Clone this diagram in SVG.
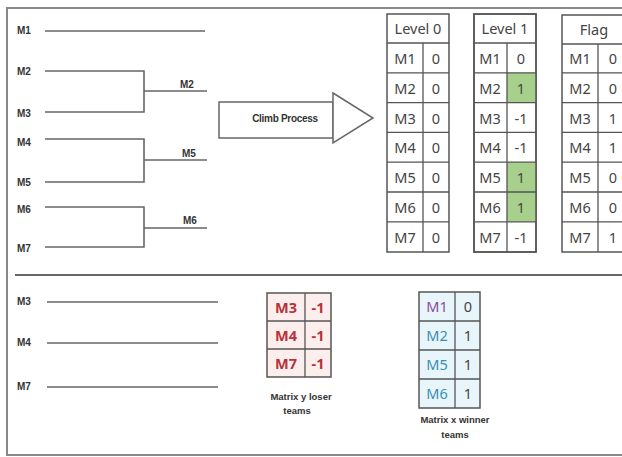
<svg xmlns="http://www.w3.org/2000/svg" width="622" height="457" viewBox="0 0 622 457">
<style>
.frame{fill:none;stroke:#8a8a8a;stroke-width:2}
.ln{fill:none;stroke:#666;stroke-width:1.6}
.lbl{font-family:"Liberation Sans",Arial,sans-serif;font-weight:bold;font-size:10px;fill:#333}
.cap{font-family:"Liberation Sans",Arial,sans-serif;font-weight:bold;font-size:9.5px;fill:#333;text-anchor:middle}
.tb{fill:#fff;stroke:#555;stroke-width:1.5}
.tl{stroke:#555;stroke-width:1.3}
.tt{font-family:"Noto Sans","Open Sans",sans-serif;font-size:14.5px;fill:#444;text-anchor:middle}
.green{fill:#a8d08d}
.red{fill:#b8323a}
.pink{fill:#fdeeee}
.blue{fill:#e8f5fb}
.teal{fill:#3a8fb0}
.purple{fill:#8a4b9c}
</style>
<rect x="0" y="0" width="622" height="457" fill="#fff"/>
<rect class="frame" x="7" y="8" width="640" height="447"/>
<line x1="15" y1="275" x2="622" y2="275" stroke="#666" stroke-width="2"/>

<g id="bracket">
<text class="lbl" x="17" y="34">M1</text>
<text class="lbl" x="17" y="75">M2</text>
<text class="lbl" x="17" y="117">M3</text>
<text class="lbl" x="17" y="146">M4</text>
<text class="lbl" x="17" y="186">M5</text>
<text class="lbl" x="17" y="213">M6</text>
<text class="lbl" x="17" y="252">M7</text>
<text class="lbl" x="180" y="88">M2</text>
<text class="lbl" x="182" y="157">M5</text>
<text class="lbl" x="183" y="224">M6</text>
</g>

<g id="connectors">
<line class="ln" x1="45" y1="31" x2="205" y2="31"/>
<polyline class="ln" points="45,71 144,71 144,112 45,112"/>
<line class="ln" x1="144" y1="91" x2="207" y2="91"/>
<polyline class="ln" points="45,139 144,139 144,182 45,182"/>
<line class="ln" x1="144" y1="160" x2="207" y2="160"/>
<polyline class="ln" points="45,207 144,207 144,247 45,247"/>
<line class="ln" x1="144" y1="228" x2="207" y2="228"/>
<line class="ln" x1="47" y1="302" x2="218" y2="302"/>
<line class="ln" x1="47" y1="343" x2="218" y2="343"/>
<line class="ln" x1="47" y1="387" x2="218" y2="387"/>
</g>

<g id="climb">
<rect x="219" y="102" width="114" height="36" fill="#fff" stroke="#666" stroke-width="1.5"/>
<polygon points="333,93 373,118 333,143" fill="#fff" stroke="#666" stroke-width="1.5"/>
<text x="285" y="122" text-anchor="middle" font-family="Liberation Sans,Arial,sans-serif" font-size="10" font-weight="bold" fill="#333" letter-spacing="-0.3">Climb Process</text>
</g>

<g id="level0">
<rect class="tb" x="387" y="14" width="62" height="238"/>
<line class="tl" x1="423" y1="43" x2="423" y2="252"/>
<g class="tl">
<line x1="387" y1="43" x2="449" y2="43"/><line x1="387" y1="72.8" x2="449" y2="72.8"/><line x1="387" y1="102.6" x2="449" y2="102.6"/><line x1="387" y1="132.4" x2="449" y2="132.4"/><line x1="387" y1="162.2" x2="449" y2="162.2"/><line x1="387" y1="192" x2="449" y2="192"/><line x1="387" y1="221.8" x2="449" y2="221.8"/>
</g>
<text class="tt" x="418" y="34">Level 0</text>
<text class="tt" x="405" y="64">M1</text><text class="tt" x="436" y="64">0</text>
<text class="tt" x="405" y="94">M2</text><text class="tt" x="436" y="94">0</text>
<text class="tt" x="405" y="124">M3</text><text class="tt" x="436" y="124">0</text>
<text class="tt" x="405" y="153">M4</text><text class="tt" x="436" y="153">0</text>
<text class="tt" x="405" y="183">M5</text><text class="tt" x="436" y="183">0</text>
<text class="tt" x="405" y="213">M6</text><text class="tt" x="436" y="213">0</text>
<text class="tt" x="405" y="243">M7</text><text class="tt" x="436" y="243">0</text>
</g>

<g id="level1">
<rect class="tb" x="474" y="14" width="62" height="238"/>
<rect class="green" x="507" y="72.8" width="29" height="29.8"/>
<rect class="green" x="507" y="162.2" width="29" height="29.8"/>
<rect class="green" x="507" y="192" width="29" height="29.8"/>
<line class="tl" x1="507" y1="43" x2="507" y2="252"/>
<g class="tl">
<line x1="474" y1="43" x2="536" y2="43"/><line x1="474" y1="72.8" x2="536" y2="72.8"/><line x1="474" y1="102.6" x2="536" y2="102.6"/><line x1="474" y1="132.4" x2="536" y2="132.4"/><line x1="474" y1="162.2" x2="536" y2="162.2"/><line x1="474" y1="192" x2="536" y2="192"/><line x1="474" y1="221.8" x2="536" y2="221.8"/>
</g>
<rect x="474" y="14" width="62" height="238" fill="none" stroke="#555" stroke-width="1.5"/>
<text class="tt" x="505" y="34">Level 1</text>
<text class="tt" x="490" y="64">M1</text><text class="tt" x="521" y="64">0</text>
<text class="tt" x="490" y="94">M2</text><text class="tt" x="521" y="94">1</text>
<text class="tt" x="490" y="124">M3</text><text class="tt" x="521" y="124">-1</text>
<text class="tt" x="490" y="153">M4</text><text class="tt" x="521" y="153">-1</text>
<text class="tt" x="490" y="183">M5</text><text class="tt" x="521" y="183">1</text>
<text class="tt" x="490" y="213">M6</text><text class="tt" x="521" y="213">1</text>
<text class="tt" x="490" y="243">M7</text><text class="tt" x="521" y="243">-1</text>
</g>

<g id="flag">
<rect class="tb" x="562" y="15" width="65" height="237"/>
<line class="tl" x1="598" y1="44" x2="598" y2="252"/>
<g class="tl">
<line x1="562" y1="44" x2="627" y2="44"/><line x1="562" y1="72.8" x2="627" y2="72.8"/><line x1="562" y1="102.6" x2="627" y2="102.6"/><line x1="562" y1="132.4" x2="627" y2="132.4"/><line x1="562" y1="162.2" x2="627" y2="162.2"/><line x1="562" y1="192" x2="627" y2="192"/><line x1="562" y1="221.8" x2="627" y2="221.8"/>
</g>
<text class="tt" x="594" y="35">Flag</text>
<text class="tt" x="580" y="64">M1</text><text class="tt" x="613" y="64">0</text>
<text class="tt" x="580" y="94">M2</text><text class="tt" x="613" y="94">0</text>
<text class="tt" x="580" y="124">M3</text><text class="tt" x="613" y="124">1</text>
<text class="tt" x="580" y="153">M4</text><text class="tt" x="613" y="153">1</text>
<text class="tt" x="580" y="183">M5</text><text class="tt" x="613" y="183">0</text>
<text class="tt" x="580" y="213">M6</text><text class="tt" x="613" y="213">0</text>
<text class="tt" x="580" y="243">M7</text><text class="tt" x="613" y="243">1</text>
</g>

<g id="losers">
<text class="lbl" x="17" y="305">M3</text>
<text class="lbl" x="17" y="346">M4</text>
<text class="lbl" x="17" y="390">M7</text>
</g>

<g id="matrix-y">
<rect class="pink" x="267" y="293" width="64" height="84" stroke="#555" stroke-width="1.5"/>
<line class="tl" x1="305" y1="293" x2="305" y2="377"/>
<line class="tl" x1="267" y1="321" x2="331" y2="321"/>
<line class="tl" x1="267" y1="349" x2="331" y2="349"/>
<text class="tt red" x="286" y="313" font-weight="bold">M3</text><text class="tt red" x="318" y="313" font-weight="bold">-1</text>
<text class="tt red" x="286" y="341" font-weight="bold">M4</text><text class="tt red" x="318" y="341" font-weight="bold">-1</text>
<text class="tt red" x="286" y="369" font-weight="bold">M7</text><text class="tt red" x="318" y="369" font-weight="bold">-1</text>
<text class="cap" x="301" y="400">Matrix y  loser</text>
<text class="cap" x="297" y="414">teams</text>
</g>

<g id="matrix-x">
<rect class="blue" x="419" y="292" width="61" height="116" stroke="#555" stroke-width="1.5"/>
<line class="tl" x1="455" y1="292" x2="455" y2="408"/>
<line class="tl" x1="419" y1="321" x2="480" y2="321"/>
<line class="tl" x1="419" y1="350" x2="480" y2="350"/>
<line class="tl" x1="419" y1="379" x2="480" y2="379"/>
<text class="tt purple" x="437" y="312">M1</text><text class="tt" x="468" y="312">0</text>
<text class="tt teal" x="437" y="341">M2</text><text class="tt" x="468" y="341">1</text>
<text class="tt teal" x="437" y="370">M5</text><text class="tt" x="468" y="370">1</text>
<text class="tt teal" x="437" y="399">M6</text><text class="tt" x="468" y="399">1</text>
<text class="cap" x="455" y="423">Matrix x winner</text>
<text class="cap" x="455" y="438">teams</text>
</g>
</svg>
